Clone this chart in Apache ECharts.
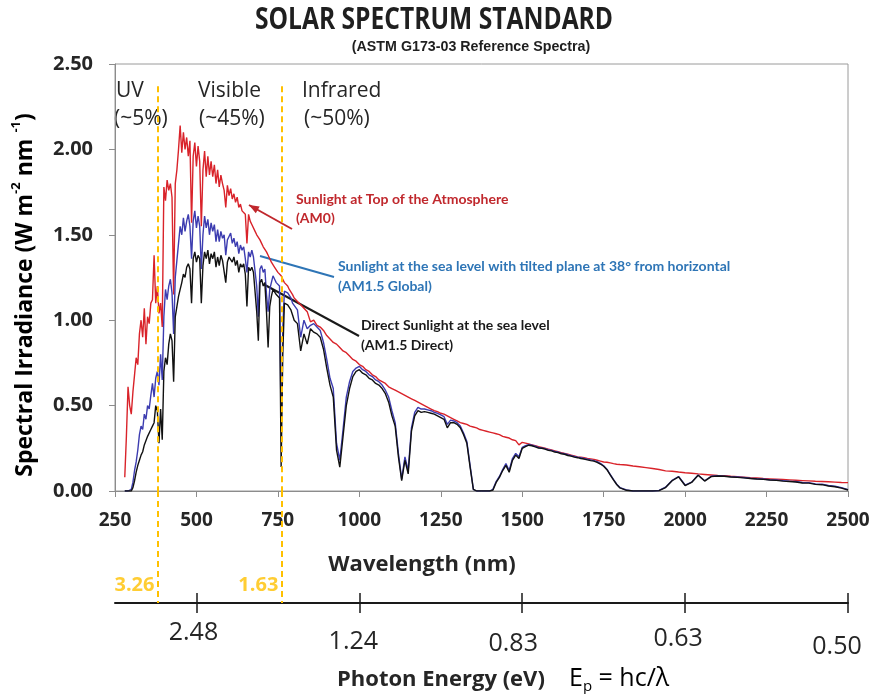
<!DOCTYPE html>
<html>
<head>
<meta charset="utf-8">
<title>Solar Spectrum Standard</title>
<script src="https://cdn.jsdelivr.net/npm/echarts@6/dist/echarts.min.js"></script>
<style>
  html, body { margin: 0; padding: 0; background: #ffffff; }
  #chart { width: 875px; height: 694px; }
</style>
</head>
<body>
<div id="chart"></div>
<script>
// Wavelength sampling (nm): 5 nm steps to 800, 10 nm to 1800, 20 nm to 2500
const wavelength = [
  280,285,290,295,300,305,310,315,320,325,
  330,335,340,345,350,355,360,365,370,375,
  380,385,390,395,400,405,410,415,420,425,
  430,435,440,445,450,455,460,465,470,475,
  480,485,490,495,500,505,510,515,520,525,
  530,535,540,545,550,555,560,565,570,575,
  580,585,590,595,600,605,610,615,620,625,
  630,635,640,645,650,655,660,665,670,675,
  680,685,690,695,700,705,710,715,720,725,
  730,735,740,745,750,755,760,765,770,775,
  780,785,790,795,800,
  810,820,830,840,850,860,870,880,890,900,
  910,920,930,940,950,960,970,980,990,1000,
  1010,1020,1030,1040,1050,1060,1070,1080,1090,1100,
  1110,1120,1130,1140,1150,1160,1170,1180,1190,1200,
  1210,1220,1230,1240,1250,1260,1270,1280,1290,1300,
  1310,1320,1330,1340,1350,1360,1370,1380,1390,1400,
  1410,1420,1430,1440,1450,1460,1470,1480,1490,1500,
  1510,1520,1530,1540,1550,1560,1570,1580,1590,1600,
  1610,1620,1630,1640,1650,1660,1670,1680,1690,1700,
  1710,1720,1730,1740,1750,1760,1770,1780,1790,1800,
  1820,1840,1860,1880,1900,1920,1940,1960,1980,2000,
  2020,2040,2060,2080,2100,2120,2140,2160,2180,2200,
  2220,2240,2260,2280,2300,2320,2340,2360,2380,2400,
  2420,2440,2460,2480,2500
];

// Extraterrestrial spectrum, top of the atmosphere (AM0), W m-2 nm-1
const am0 = [
  0.08,0.32,0.61,0.50,0.45,0.58,0.68,0.78,0.74,0.92,
  1.00,0.90,1.07,0.86,1.02,0.98,1.10,1.12,1.38,1.10,
  1.20,1.04,1.10,0.96,1.78,1.70,1.82,1.76,1.80,1.72,
  1.15,1.80,1.88,2.00,2.14,1.98,2.10,2.00,2.07,1.96,
  2.05,1.57,1.96,2.04,1.90,2.02,1.93,1.55,1.88,1.99,
  1.84,1.96,1.85,1.93,1.84,1.91,1.80,1.88,1.78,1.85,
  1.80,1.76,1.66,1.79,1.73,1.77,1.71,1.74,1.69,1.72,
  1.66,1.68,1.64,1.65,1.62,1.45,1.62,1.58,1.56,1.55,
  1.52,1.50,1.49,1.47,1.45,1.43,1.42,1.40,1.38,1.36,
  1.34,1.33,1.31,1.30,1.28,1.27,1.26,1.24,1.22,1.21,
  1.20,1.18,1.17,1.15,1.13,
  1.11,1.09,1.07,1.05,0.99,1.00,0.97,0.96,0.94,0.91,
  0.89,0.87,0.86,0.84,0.82,0.81,0.79,0.77,0.76,0.74,
  0.73,0.71,0.70,0.68,0.67,0.65,0.64,0.63,0.61,0.60,
  0.59,0.58,0.57,0.56,0.55,0.54,0.53,0.52,0.51,0.50,
  0.49,0.48,0.47,0.465,0.455,0.45,0.44,0.43,0.42,0.41,
  0.40,0.395,0.39,0.38,0.375,0.37,0.36,0.355,0.35,0.345,
  0.34,0.335,0.33,0.32,0.315,0.31,0.30,0.295,0.27,0.285,
  0.28,0.275,0.27,0.265,0.26,0.255,0.25,0.245,0.24,0.235,
  0.23,0.225,0.22,0.215,0.21,0.205,0.20,0.198,0.195,0.19,
  0.188,0.185,0.18,0.175,0.17,0.168,0.165,0.16,0.157,0.155,
  0.152,0.146,0.142,0.137,0.132,0.126,0.118,0.116,0.111,0.107,
  0.104,0.100,0.097,0.094,0.091,0.089,0.086,0.084,0.081,0.078,
  0.076,0.073,0.071,0.069,0.067,0.065,0.063,0.061,0.059,0.057,
  0.056,0.054,0.052,0.050,0.049
];

// Sea level, 37° tilted surface, global irradiance (AM1.5 Global)
const am15Global = [
  0,0,0,0,0.01,0.05,0.12,0.17,0.24,0.33,
  0.38,0.36,0.45,0.42,0.50,0.48,0.56,0.63,0.55,0.66,
  0.70,0.62,0.80,0.65,1.02,1.18,1.12,1.20,1.24,1.16,
  0.92,1.25,1.35,1.45,1.55,1.50,1.60,1.52,1.58,1.62,
  1.55,1.36,1.58,1.64,1.54,1.61,1.55,1.30,1.50,1.61,
  1.54,1.59,1.50,1.57,1.52,1.56,1.46,1.53,1.46,1.52,
  1.48,1.50,1.38,1.47,1.49,1.51,1.45,1.48,1.43,1.46,
  1.39,1.44,1.41,1.43,1.36,1.28,1.40,1.37,1.41,1.37,
  1.36,1.20,1.02,1.30,1.32,1.28,1.30,1.15,1.05,1.18,
  1.22,1.26,1.24,1.22,1.23,1.20,0.35,0.95,1.17,1.18,
  1.16,1.15,1.13,1.10,1.09,
  1.06,0.90,1.00,0.95,0.97,0.98,0.96,0.94,0.87,0.77,
  0.66,0.60,0.28,0.18,0.36,0.55,0.64,0.70,0.72,0.73,
  0.71,0.70,0.68,0.67,0.65,0.64,0.62,0.59,0.55,0.47,
  0.40,0.22,0.07,0.20,0.12,0.37,0.46,0.49,0.48,0.48,
  0.475,0.47,0.46,0.455,0.445,0.435,0.39,0.415,0.41,0.40,
  0.38,0.34,0.29,0.15,0.01,0,0,0,0,0,
  0.01,0.055,0.085,0.125,0.16,0.12,0.19,0.22,0.20,0.255,
  0.265,0.272,0.268,0.262,0.255,0.252,0.248,0.242,0.238,0.232,
  0.228,0.222,0.218,0.212,0.207,0.202,0.198,0.195,0.19,0.186,
  0.182,0.178,0.172,0.162,0.148,0.128,0.098,0.068,0.04,0.02,
  0.006,0,0,0,0,0.003,0.022,0.062,0.085,0.035,
  0.052,0.094,0.060,0.086,0.090,0.087,0.084,0.082,0.079,0.075,
  0.072,0.070,0.066,0.064,0.061,0.058,0.056,0.050,0.049,0.042,
  0.040,0.032,0.028,0.020,0.008
];

// Sea level, direct normal irradiance (AM1.5 Direct)
const am15Direct = [
  0,0,0,0,0,0.02,0.06,0.11,0.15,0.18,
  0.21,0.23,0.27,0.28,0.32,0.31,0.36,0.38,0.40,0.50,
  0.47,0.28,0.48,0.30,0.70,0.78,0.74,0.86,0.92,0.88,
  0.64,1.02,1.08,1.14,1.18,1.22,1.27,1.25,1.31,1.33,
  1.30,1.10,1.36,1.40,1.34,1.38,1.36,1.10,1.32,1.40,
  1.36,1.41,1.33,1.39,1.36,1.40,1.31,1.37,1.32,1.38,
  1.35,1.36,1.22,1.34,1.37,1.38,1.34,1.37,1.32,1.35,
  1.28,1.33,1.31,1.33,1.27,1.08,1.31,1.29,1.31,1.28,
  1.27,1.05,0.88,1.22,1.24,1.20,1.22,1.05,0.84,1.08,
  1.14,1.18,1.17,1.15,1.16,1.13,0.14,0.80,1.10,1.10,
  1.09,1.08,1.06,1.03,1.00,
  0.98,0.82,0.92,0.86,0.95,0.93,0.92,0.90,0.83,0.72,
  0.62,0.55,0.24,0.14,0.32,0.50,0.60,0.67,0.70,0.71,
  0.69,0.68,0.66,0.65,0.63,0.62,0.60,0.57,0.52,0.44,
  0.38,0.20,0.06,0.18,0.10,0.35,0.44,0.47,0.46,0.465,
  0.46,0.455,0.45,0.44,0.43,0.42,0.37,0.40,0.40,0.39,
  0.37,0.33,0.28,0.14,0.01,0,0,0,0,0,
  0.005,0.05,0.08,0.12,0.15,0.11,0.18,0.21,0.19,0.25,
  0.26,0.268,0.265,0.258,0.252,0.25,0.245,0.238,0.235,0.228,
  0.225,0.218,0.215,0.208,0.204,0.198,0.195,0.19,0.187,0.182,
  0.178,0.175,0.168,0.158,0.145,0.125,0.095,0.065,0.038,0.018,
  0.004,0,0,0,0,0.002,0.02,0.06,0.083,0.032,
  0.05,0.092,0.058,0.084,0.088,0.086,0.082,0.080,0.077,0.073,
  0.070,0.068,0.064,0.062,0.058,0.056,0.053,0.047,0.046,0.039,
  0.037,0.029,0.025,0.017,0.006
];

// Photon-energy scale: tick positions (nm) and their labels (eV)
const energyTickNm = [500, 1000, 1500, 2000, 2500];
const energyTickLabels = ['2.48', '1.24', '0.83', '0.63', '0.50'];
// UV / visible and visible / infrared boundaries (eV)
const bandEdgeEv = ['3.26', '1.63'];

const SANS = '"Open Sans", Lato, "DejaVu Sans", sans-serif';
const LATO = 'Lato, "Open Sans", "DejaVu Sans", sans-serif';
const ARIAL = '"Liberation Sans", Arial, sans-serif';
const TEXT = '#262626';
const GOLD = '#FFC000';
const RED = '#D9232A';
const BLUE = '#3C3CB0';
const BLACK = '#111111';

const evToNm = ev => 1239.84 / ev;
const toPairs = ys => wavelength.map((w, i) => [w, ys[i]]);

function spectrum(name, ys, color) {
  return {
    name, type: 'line', xAxisIndex: 0, yAxisIndex: 0,
    data: toPairs(ys), showSymbol: false, symbol: 'none',
    lineStyle: { color, width: 1.4 }, itemStyle: { color },
    silent: true, animation: false
  };
}

// Straight pointer from (x1,y1) to (x2,y2), optionally with an arrowhead at the end
function arrow(x1, y1, x2, y2, color, head) {
  const els = [{
    type: 'line', silent: true,
    shape: { x1, y1, x2, y2 },
    style: { stroke: color, lineWidth: 2 }
  }];
  if (head) {
    const dx = x2 - x1, dy = y2 - y1, len = Math.hypot(dx, dy);
    const ux = dx / len, uy = dy / len, L = 10, W = 4;
    const bx = x2 - ux * L, by = y2 - uy * L;
    els.push({
      type: 'polygon', silent: true,
      shape: { points: [[x2, y2], [bx - uy * W, by + ux * W], [bx + uy * W, by - ux * W]] },
      style: { fill: color }
    });
  }
  return els;
}

function label(text, x, y, opts) {
  const o = Object.assign({ size: 14, weight: 'normal', color: TEXT, align: 'left', family: SANS, scaleX: 1 }, opts || {});
  return {
    type: 'text', silent: true, x, y, scaleX: o.scaleX,
    style: {
      text, fill: o.color,
      font: `${o.weight} ${o.size}px ${o.family}`,
      align: o.align, textAlign: o.align,
      verticalAlign: 'middle', textVerticalAlign: 'middle'
    }
  };
}

// Per-label nudges for the photon-energy labels: [dx, dy] in px
const energyLabelNudge = [[-3, 0], [-6, 9], [-9, 11], [-7, 6], [-11, 14]];
const energyRich = {};
energyLabelNudge.forEach(([dx, dy], i) => {
  energyRich['e' + i] = {
    fontFamily: SANS, fontSize: 25, color: TEXT,
    padding: [dy, dx < 0 ? -2 * dx : 0, 0, dx > 0 ? 2 * dx : 0]
  };
});

const chart = echarts.init(document.getElementById('chart'), null, { renderer: 'canvas' });

const option = {
  backgroundColor: '#ffffff',
  animation: false,
  grid: [
    { left: 115, top: 64, width: 733, height: 427, show: true, borderColor: '#9a9a9a', borderWidth: 1, containLabel: false },
    { left: 115, top: 491, width: 733, height: 112, show: false, containLabel: false }
  ],
  xAxis: [
    {
      gridIndex: 0, type: 'value', min: 250, max: 2500, interval: 250,
      axisLine: { show: true, onZero: false, lineStyle: { color: '#8c8c8c', width: 1 } },
      axisTick: { show: true, length: 6, lineStyle: { color: '#8c8c8c' } },
      axisLabel: { fontFamily: SANS, fontSize: 19, fontWeight: 'bold', color: TEXT, margin: 20, formatter: v => String(v) },
      splitLine: { show: false }
    },
    {
      gridIndex: 1, type: 'value', min: 250, max: 2500, position: 'bottom',
      axisLine: { show: true, onZero: false, lineStyle: { color: '#1a1a1a', width: 2 } },
      axisTick: { show: true, customValues: energyTickNm, length: 10, inside: false, lineStyle: { color: '#1a1a1a', width: 1.5 } },
      axisLabel: {
        customValues: energyTickNm, margin: 17,
        fontFamily: SANS, fontSize: 25, color: TEXT,
        formatter: v => {
          const i = energyTickNm.indexOf(v);
          return i < 0 ? '' : `{e${i}|${energyTickLabels[i]}}`;
        },
        rich: energyRich
      },
      splitLine: { show: false }
    },
    {
      gridIndex: 1, type: 'value', min: 250, max: 2500, position: 'bottom',
      axisLine: { show: false },
      axisTick: { show: true, customValues: energyTickNm, length: 10, inside: true, lineStyle: { color: '#1a1a1a', width: 1.5 } },
      axisLabel: { show: false },
      splitLine: { show: false }
    }
  ],
  yAxis: [
    {
      gridIndex: 0, type: 'value', min: 0, max: 2.5, interval: 0.5,
      axisLine: { show: true, lineStyle: { color: '#8c8c8c', width: 1 } },
      axisTick: { show: true, length: 6, lineStyle: { color: '#8c8c8c' } },
      axisLabel: { fontFamily: SANS, fontSize: 20, fontWeight: 'bold', color: TEXT, margin: 22, formatter: v => v.toFixed(2) },
      splitLine: { show: false }
    },
    { gridIndex: 1, type: 'value', min: 0, max: 1, show: false }
  ],
  series: [
    spectrum('AM0', am0, RED),
    spectrum('AM1.5 Global', am15Global, BLUE),
    spectrum('AM1.5 Direct', am15Direct, BLACK),
    {
      // band boundaries inside the plot
      type: 'line', xAxisIndex: 0, yAxisIndex: 0, data: [], silent: true, z: 5,
      markLine: {
        silent: true, symbol: 'none', animation: false,
        label: { show: false },
        lineStyle: { color: GOLD, type: [6, 4], width: 2 },
        data: bandEdgeEv.map(e => [{ coord: [evToNm(+e), 2.37] }, { coord: [evToNm(+e), 0] }])
      }
    },
    {
      // band boundaries continued down to the photon-energy scale
      type: 'line', xAxisIndex: 1, yAxisIndex: 1, data: [], silent: true, z: 5,
      markLine: {
        silent: true, symbol: 'none', animation: false,
        label: { show: false },
        lineStyle: { color: GOLD, type: [6, 4], width: 2 },
        data: bandEdgeEv.map(e => [{ coord: [evToNm(+e), 1] }, { coord: [evToNm(+e), 0] }])
      }
    },
    {
      // boundary energies written beside the dashed lines
      type: 'scatter', xAxisIndex: 1, yAxisIndex: 1, silent: true,
      symbolSize: 0,
      data: bandEdgeEv.map(e => [evToNm(+e), 0.16]),
      label: {
        show: true, position: 'left', distance: 3,
        fontFamily: SANS, fontSize: 20, fontWeight: 'bold', color: GOLD,
        formatter: p => bandEdgeEv[p.dataIndex]
      }
    }
  ],
  graphic: [
    label('SOLAR SPECTRUM STANDARD', 434, 20, { size: 30, weight: 'bold', align: 'center', color: '#1f1f1f', scaleX: 0.82 }),
    label('(ASTM G173-03 Reference Spectra)', 471, 47, { size: 15, weight: 'bold', align: 'center', color: '#1f1f1f', family: ARIAL, scaleX: 0.95 }),

    label('UV', 116, 91, { size: 21 }),
    label('(~5%)', 114, 119, { size: 21 }),
    label('Visible', 198, 91, { size: 21 }),
    label('(~45%)', 199, 119, { size: 21 }),
    label('Infrared', 302, 91, { size: 21 }),
    label('(~50%)', 304, 119, { size: 21 }),

    ...arrow(292, 229, 249, 205, '#C0282D', true),
    label('Sunlight at Top of the Atmosphere', 296, 199, { size: 14, weight: 'bold', color: '#C0282D', family: LATO }),
    label('(AM0)', 296, 218, { size: 14, weight: 'bold', color: '#C0282D', family: LATO }),

    ...arrow(334, 277, 260, 256, '#2E75B6', false),
    label('Sunlight at the sea level with tilted plane at 38° from horizontal', 338, 266, { size: 14, weight: 'bold', color: '#2E75B6', family: LATO }),
    label('(AM1.5 Global)', 338, 286, { size: 14, weight: 'bold', color: '#2E75B6', family: LATO }),

    ...arrow(359, 336, 265, 285, '#1a1a1a', false),
    label('Direct Sunlight at the sea level', 361, 325, { size: 14, weight: 'bold', color: '#1a1a1a', family: LATO }),
    label('(AM1.5 Direct)', 361, 345, { size: 14, weight: 'bold', color: '#1a1a1a', family: LATO }),

    label('Wavelength (nm)', 422, 565, { size: 22, weight: 'bold', align: 'center' }),
    label('Photon Energy (eV)', 337, 680, { size: 22, weight: 'bold' }),
    {
      type: 'text', silent: true, x: 569, y: 679,
      style: {
        text: '{n|E}{s|p}{n| = hc/λ}',
        align: 'left', textAlign: 'left', verticalAlign: 'middle', textVerticalAlign: 'middle',
        rich: {
          n: { fontFamily: SANS, fontSize: 25, color: TEXT, lineHeight: 30 },
          s: { fontFamily: SANS, fontSize: 15, color: TEXT, lineHeight: 20, verticalAlign: 'bottom' }
        }
      }
    },
    {
      type: 'text', silent: true, x: 25, y: 295, rotation: Math.PI / 2,
      style: {
        text: '{n|Spectral Irradiance (W m}{s|-2}{n| nm }{s|-1}{n|)}',
        align: 'center', textAlign: 'center', verticalAlign: 'middle', textVerticalAlign: 'middle',
        rich: {
          n: { fontFamily: SANS, fontSize: 23, fontWeight: 'bold', color: TEXT, lineHeight: 30 },
          s: { fontFamily: SANS, fontSize: 13, fontWeight: 'bold', color: TEXT, lineHeight: 17, verticalAlign: 'top' }
        }
      }
    }
  ]
};

chart.setOption(option);
</script>
</body>
</html>
